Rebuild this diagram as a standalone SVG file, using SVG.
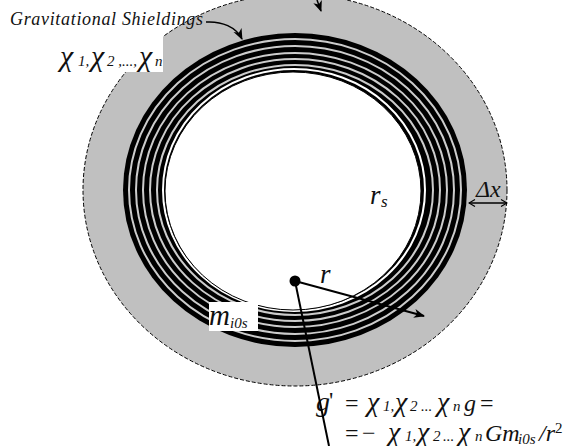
<svg xmlns="http://www.w3.org/2000/svg" width="568" height="446" viewBox="0 0 568 446">
<defs>
<marker id="ah" markerWidth="12" markerHeight="10" refX="10" refY="5" orient="auto" markerUnits="userSpaceOnUse"><path d="M0,0.5 L11,5 L0,9.5 L3,5 Z" fill="#000"/></marker>
<marker id="open" markerWidth="8" markerHeight="8" refX="7" refY="4" orient="auto-start-reverse" markerUnits="userSpaceOnUse"><path d="M1,0.5 L7,4 L1,7.5" fill="none" stroke="#000" stroke-width="1.2"/></marker>
</defs>
<style>
.t{font-family:"Liberation Serif",serif;font-style:italic;fill:#111}
.u{font-family:"Liberation Serif",serif;fill:#111}
.x{font-size:30px}
.x2{font-size:28px}
.s{font-size:15px}
.gap{fill:none;stroke:#fff;stroke-width:2}
.gap2{fill:none;stroke:#ccc;stroke-width:2}
</style>
<g id="shield-region">
<ellipse cx="295" cy="190" rx="212" ry="196" fill="#c0c0c0" stroke="#000" stroke-width="1" stroke-dasharray="4 2"/>
</g>
<g id="rings">
<ellipse cx="295" cy="190" rx="172" ry="157" fill="#000"/>
<ellipse class="gap2" cx="295" cy="190" rx="166" ry="151"/>
<ellipse class="gap2" cx="295" cy="190" rx="159" ry="144"/>
<ellipse class="gap2" cx="295" cy="190" rx="152" ry="137"/>
<ellipse class="gap2" cx="295" cy="190" rx="145" ry="131"/>
<ellipse class="gap2" cx="295" cy="190" rx="138" ry="125"/>
<ellipse class="gap" cx="294" cy="190" rx="131" ry="121"/>
<ellipse cx="293" cy="191" rx="128" ry="119" fill="#fff" stroke="#000" stroke-width="1"/>
</g>
<g id="label-gravitational-shieldings">
<rect x="0" y="0" width="163" height="72" fill="#fff"/>
<text class="t" x="10" y="25" font-size="18" textLength="193" lengthAdjust="spacing">Gravitational Shieldings</text>
</g>
<g id="label-chi">
<text class="t x" x="60" y="66">χ</text><text class="t s" x="78" y="66">1,</text>
<text class="t x" x="91" y="66">χ</text><text class="t s" x="107" y="66">2 ,...,</text>
<text class="t x" x="139" y="66">χ</text><text class="t s" x="155" y="66">n</text>
</g>
<g id="label-rs">
<text class="t" x="370" y="204" font-size="27">r</text><text class="t" x="381" y="207" font-size="17">s</text>
</g>
<g id="label-dx">
<text class="t" x="476" y="197" font-size="24">Δx</text>
</g>
<g id="label-m">
<rect x="209" y="302" width="49" height="29" fill="#fff"/>
<text class="t" x="209" y="325" font-size="29">m</text><text class="t" x="230" y="328" font-size="15">i0s</text>
</g>
<g id="center"><circle cx="295" cy="281" r="5.5" fill="#000"/></g>
<g id="label-r"><text class="t" x="320" y="283" font-size="27">r</text></g>
<g id="label-g">
<text class="t" x="316" y="411" font-size="28">g</text>
<text class="u" x="329" y="408" font-size="24">'</text>
<text class="u" x="345" y="411" font-size="24">=</text>
<text class="t x2" x="367" y="411">χ</text><text class="t s" x="383" y="411">1,</text>
<text class="t x2" x="395" y="411">χ</text><text class="t s" x="410" y="411">2</text><text class="t s" x="421" y="411">...</text>
<text class="t x2" x="437" y="411">χ</text><text class="t s" x="453" y="411">n</text>
<text class="t" x="464" y="411" font-size="24">g</text><text class="u" x="480" y="411" font-size="24">=</text>
<text class="u" x="345" y="441" font-size="24">=</text><text class="u" x="362" y="441" font-size="24">−</text>
<text class="t x2" x="388" y="441">χ</text><text class="t s" x="405" y="441">1,</text>
<text class="t x2" x="417" y="441">χ</text><text class="t s" x="433" y="441">2</text><text class="t s" x="443" y="441">...</text>
<text class="t x2" x="458" y="441">χ</text><text class="t s" x="475" y="441">n</text>
<text class="t" x="485" y="441" font-size="24">Gm</text><text class="t" x="518" y="444" font-size="15">i0s</text>
<text class="t" x="539" y="441" font-size="24">/r</text><text class="u" x="555" y="433" font-size="15">2</text>
</g>
<g id="connectors" fill="none" stroke="#000">
<path d="M206,22C222,21 236,27 242,39" stroke-width="1.5" marker-end="url(#ah)"/>
<path d="M317,0L321,11" stroke-width="1.5" marker-end="url(#ah)"/>
<path d="M295,281L424,316" stroke-width="2" marker-end="url(#ah)"/>
<path d="M295,281L329,446" stroke-width="2"/>
<path d="M469,203L507,203" stroke-width="1.5" marker-start="url(#open)" marker-end="url(#open)"/>
</g>
</svg>
